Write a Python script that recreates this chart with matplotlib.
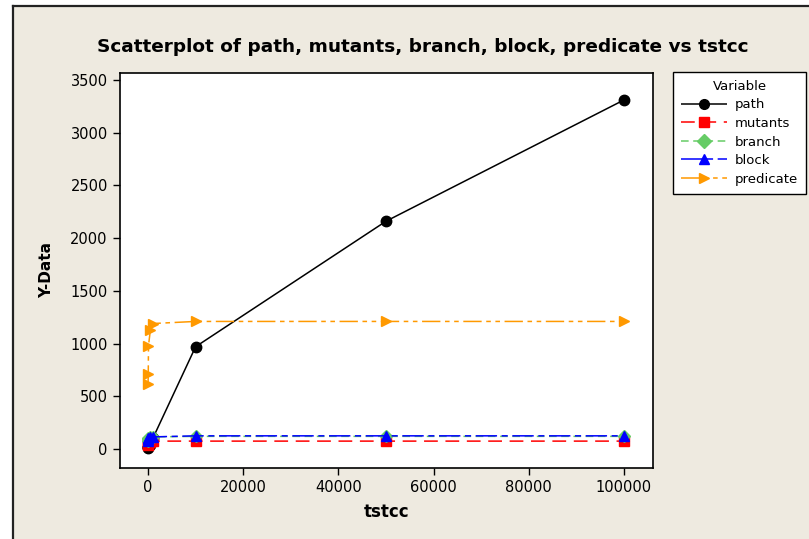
"""Scatterplot of coverage metrics against tstcc."""

import matplotlib

matplotlib.use("Agg")
import matplotlib.pyplot as plt
from matplotlib.lines import Line2D
from matplotlib.patches import Rectangle


TSTCC = [10, 50, 100, 500, 1000, 10000, 50000, 100000]
PATH = [10, 15, 20, 40, 100, 970, 2160, 3310]
MUTANTS = [40, 50, 60, 70, 75, 75, 75, 75]
BRANCH = [80, 95, 105, 110, 115, 120, 120, 120]
BLOCK = [80, 95, 105, 110, 115, 125, 125, 125]
PREDICATE = [620, 710, 980, 1130, 1190, 1210, 1210, 1210]

X_TICKS = [0, 20000, 40000, 60000, 80000, 100000]
Y_TICKS = [0, 500, 1000, 1500, 2000, 2500, 3000, 3500]

SERIES = [
    ("path", PATH, "black", "o", 7.5, (0, ())),
    ("mutants", MUTANTS, "#FF0000", "s", 6.5, (0, (9, 5))),
    ("branch", BRANCH, "#66CC66", "D", 6.5, (0, (5, 3))),
    ("block", BLOCK, "#0000FF", "^", 7.5, (0, (14, 3, 4, 3))),
    ("predicate", PREDICATE, "#FF9900", ">", 7.5, (0, (12, 3, 3, 3, 3, 3))),
]

BEIGE = "#EEEAE0"


def main() -> None:
    plt.rcParams.update({"font.family": "DejaVu Sans", "font.size": 10.5})
    fig = plt.figure(figsize=(8.09, 5.39), dpi=100, facecolor="white")

    # window panel with dark top/left border
    W, H = 809, 539
    fig.patches.append(Rectangle((12.5 / W, 0), 1, 1 - 6 / H, transform=fig.transFigure,
                                 facecolor=BEIGE, edgecolor="none", zorder=-10))
    fig.add_artist(Line2D([12.5 / W, 12.5 / W], [0, 1 - 6 / H], color="#222222", lw=1.6))
    fig.add_artist(Line2D([12.5 / W, 1], [1 - 6 / H, 1 - 6 / H], color="#222222", lw=1.6))

    ax = fig.add_axes([119.6 / W, 1 - 468 / H, 533 / W, 395 / H])
    ax.set_facecolor("white")
    for name, vals, color, marker, ms, ls in SERIES:
        ax.plot(TSTCC, vals, color=color, linestyle=ls, lw=1.1, marker=marker,
                markersize=ms, markeredgecolor=color, label=name)

    ax.set_xlim(-5970, 106030)
    ax.set_ylim(-180, 3566)
    ax.set_xticks(X_TICKS)
    ax.set_yticks(Y_TICKS)
    ax.tick_params(direction="out", length=5, width=1, labelsize=10.5, colors="black")
    for sp in ax.spines.values():
        sp.set_linewidth(1.2)

    ax.set_xlabel("tstcc", fontsize=12, fontweight="bold", labelpad=6)
    ax.set_ylabel("Y-Data", fontsize=11, fontweight="bold", labelpad=12)
    fig.text(0.5 * (95 + 750) / W, 1 - 47 / H,
             "Scatterplot of path, mutants, branch, block, predicate vs tstcc",
             ha="center", va="center", fontsize=13.3, fontweight="bold")

    leg = ax.legend(loc="upper left", bbox_to_anchor=(673 / W, 1 - 72 / H),
                    bbox_transform=fig.transFigure, title="Variable", fontsize=9.5,
                    title_fontsize=9.5, handlelength=3.5, handletextpad=0.6,
                    labelspacing=0.42, borderpad=0.6, frameon=True, fancybox=False,
                    numpoints=1, borderaxespad=0, framealpha=1)
    leg.get_frame().set_edgecolor("black")
    leg.get_frame().set_linewidth(1.0)
    for h in leg.legend_handles:
        h.set_markersize(7)

    fig.savefig("out.png", dpi=100, facecolor="white")
    plt.close(fig)


if __name__ == "__main__":
    main()
